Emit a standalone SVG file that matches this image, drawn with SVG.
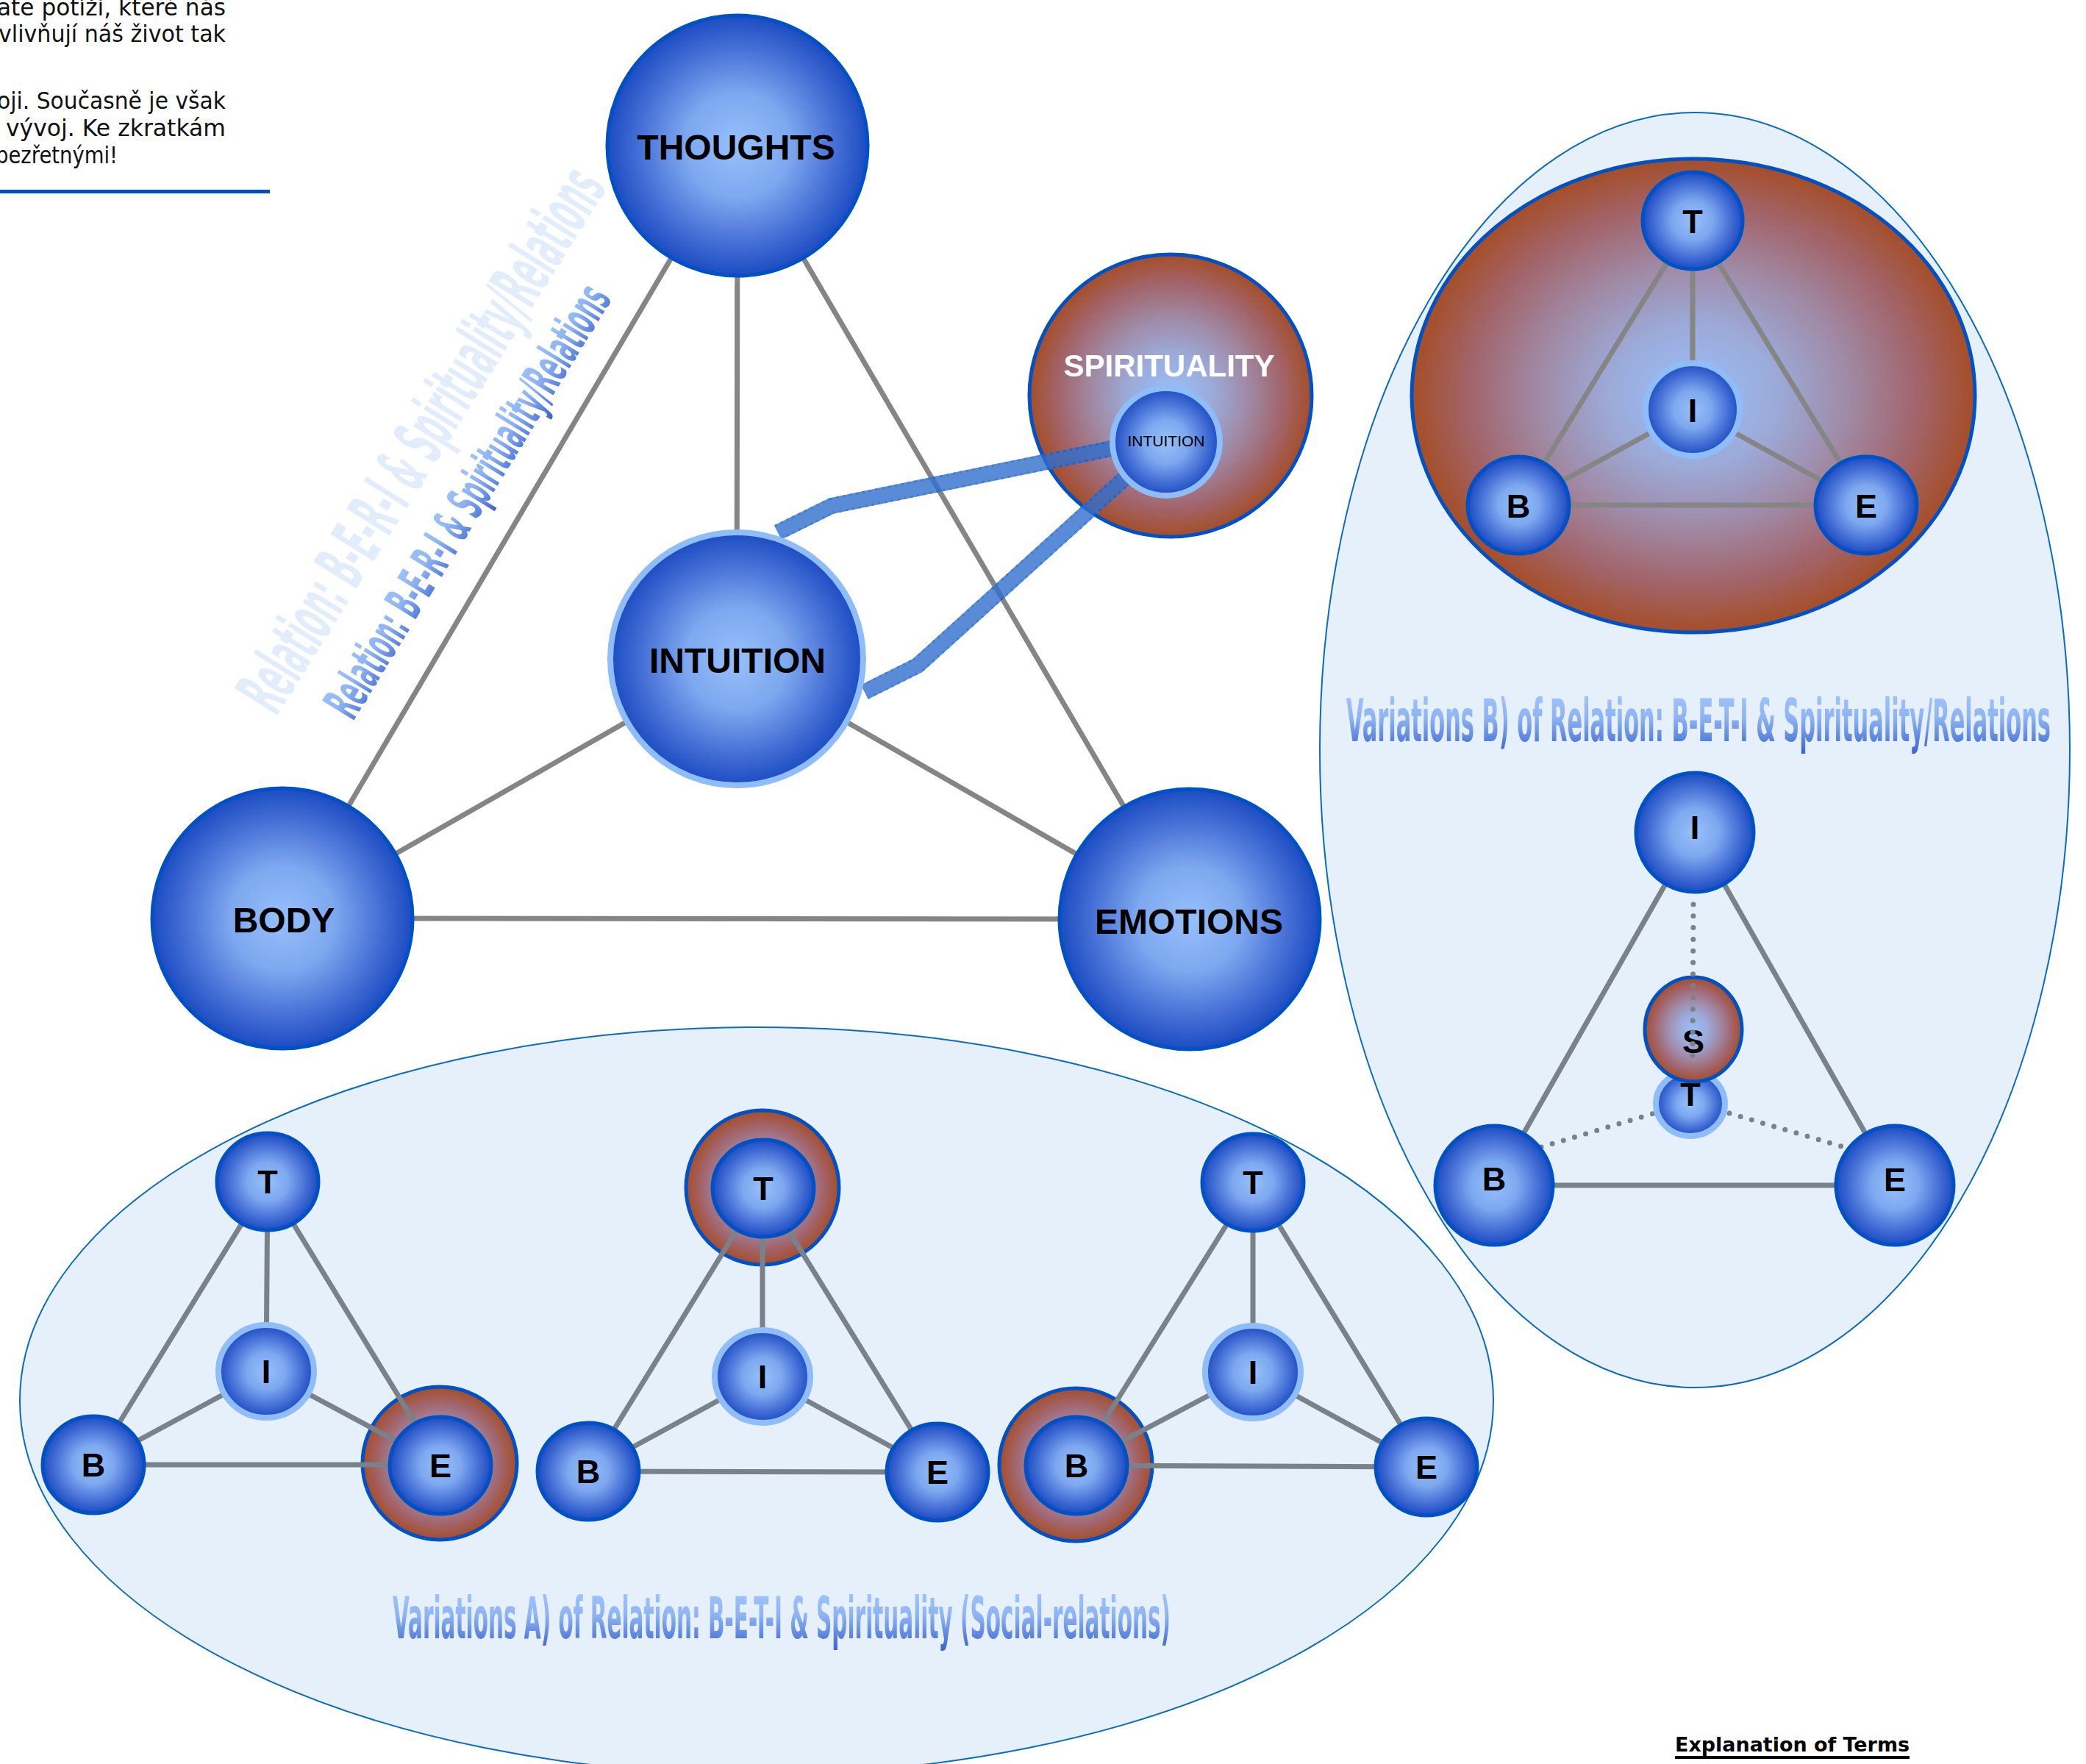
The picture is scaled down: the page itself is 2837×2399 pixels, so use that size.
<svg xmlns="http://www.w3.org/2000/svg" width="2837" height="2399" viewBox="0 0 2837 2399">
<style>
.hdr{font-family:"DejaVu Sans","Liberation Sans",sans-serif;font-size:32px;fill:#111}
.big{font-family:"Liberation Sans",Arial,sans-serif;font-weight:bold;font-size:48px;fill:#000;text-anchor:middle}
.sm{font-family:"Liberation Sans",Arial,sans-serif;font-weight:bold;font-size:45px;fill:#000;text-anchor:middle}
.ln{stroke:#858585;stroke-width:7;fill:none}
.ln2{stroke:#79828a;stroke-width:7;fill:none}
.dot{stroke:#79828a;stroke-width:7;stroke-linecap:round;stroke-dasharray:0 15.8;fill:none}
.nb{fill:url(#gBlue);stroke:#0050c6;stroke-width:5}
.ni{fill:url(#gBlue);stroke:#8fbdf9;stroke-width:8}
.ns{fill:url(#gBrown);stroke:#0050c6;stroke-width:5}
.area{fill:#e6f0fa;stroke:#0a6cc0;stroke-width:2}
.cond{font-family:"Liberation Sans Narrow","DejaVu Sans Condensed","Liberation Sans",sans-serif;font-weight:bold;text-anchor:middle}
</style>
<defs>
<radialGradient id="gBlue" cx="50%" cy="50%" r="50%">
<stop offset="0" stop-color="#96c0fb"/>
<stop offset="0.4" stop-color="#7ea8ef"/>
<stop offset="0.75" stop-color="#4670d6"/>
<stop offset="1" stop-color="#1c4cc2"/>
</radialGradient>
<radialGradient id="gBrown" cx="50%" cy="50%" r="50%">
<stop offset="0" stop-color="#98bffa"/>
<stop offset="0.3" stop-color="#9caad8"/>
<stop offset="0.55" stop-color="#a08aa6"/>
<stop offset="0.8" stop-color="#a2646a"/>
<stop offset="1" stop-color="#a54e28"/>
</radialGradient>
<linearGradient id="gText" x1="0" y1="0" x2="0" y2="1">
<stop offset="0" stop-color="#a4c8fe"/>
<stop offset="0.45" stop-color="#8fb4f4"/>
<stop offset="1" stop-color="#3560cc"/>
</linearGradient>
</defs>

<g id="header">
<text class="hdr" x="-4" y="21" textLength="311" lengthAdjust="spacingAndGlyphs">ate potíži, které nás</text>
<text class="hdr" x="-2" y="57" textLength="309" lengthAdjust="spacingAndGlyphs">vlivňují náš život tak</text>
<text class="hdr" x="-4" y="148" textLength="311" lengthAdjust="spacingAndGlyphs">oji. Současně je však</text>
<text class="hdr" x="8" y="185" textLength="299" lengthAdjust="spacingAndGlyphs">vývoj. Ke zkratkám</text>
<text class="hdr" x="-6" y="222" textLength="166" lengthAdjust="spacingAndGlyphs">bezřetnými!</text>
<rect x="0" y="258" width="367" height="5" fill="#0050c0"/>
</g>

<g id="diagonal-labels">
<text class="cond" transform="translate(572,597) rotate(-58)" x="0" y="34" font-size="95" fill="#e2edfb" textLength="850" lengthAdjust="spacingAndGlyphs">Relation: B-E-R-I &amp; Spirituality/Relations</text>
<text class="cond" transform="translate(635,681) rotate(-58.5)" x="0" y="25" font-size="70" fill="url(#gText)" textLength="675" lengthAdjust="spacingAndGlyphs">Relation: B-E-R-I &amp; Spirituality/Relations</text>
</g>

<g id="main-connectors">
<line class="ln" x1="1003" y1="198" x2="384" y2="1249"/>
<line class="ln" x1="1003" y1="198" x2="1618" y2="1250"/>
<line class="ln" x1="1003" y1="198" x2="1002" y2="896"/>
<line class="ln" x1="1002" y1="896" x2="384" y2="1249"/>
<line class="ln" x1="1002" y1="896" x2="1618" y2="1250"/>
<line class="ln" x1="384" y1="1249" x2="1618" y2="1250"/>
</g>

<g id="node-thoughts">
<circle class="nb" cx="1003" cy="198" r="177"/>
<text class="big" x="1001" y="217">THOUGHTS</text>
</g>
<g id="node-body">
<circle class="nb" cx="384" cy="1249" r="177"/>
<text class="big" x="386" y="1268">BODY</text>
</g>
<g id="node-emotions">
<circle class="nb" cx="1618" cy="1250" r="177"/>
<text class="big" x="1617" y="1270">EMOTIONS</text>
</g>
<g id="node-spirituality">
<circle class="ns" cx="1592" cy="538" r="192" stroke-width="6"/>
<text x="1590" y="512" font-family="Liberation Sans, Arial, sans-serif" font-weight="bold" font-size="42" fill="#ffffff" text-anchor="middle">SPIRITUALITY</text>
</g>
<g id="spirit-bands" opacity="0.8">
<path d="M1058,724 L1131,688 L1511,610" stroke="#316fce" stroke-width="22" fill="none" stroke-linejoin="round"/>
<path d="M1058,724 L1131,688 L1511,610" stroke="#0e5fc8" stroke-width="22" fill="none" stroke-dasharray="3 6" stroke-linejoin="round"/>
<path d="M1058,724 L1131,688 L1511,610" stroke="#316fce" stroke-width="16" fill="none" stroke-linejoin="round"/>
<path d="M1176,941 L1248,905 L1529,651" stroke="#316fce" stroke-width="22" fill="none" stroke-linejoin="round"/>
<path d="M1176,941 L1248,905 L1529,651" stroke="#0e5fc8" stroke-width="22" fill="none" stroke-dasharray="3 6" stroke-linejoin="round"/>
<path d="M1176,941 L1248,905 L1529,651" stroke="#316fce" stroke-width="16" fill="none" stroke-linejoin="round"/>
</g>
<g id="node-intuition-inner">
<circle class="ni" cx="1586" cy="601" r="73"/>
<text x="1586" y="607" font-family="Liberation Sans, Arial, sans-serif" font-size="21" fill="#000" text-anchor="middle">INTUITION</text>
</g>
<g id="node-intuition">
<circle class="ni" cx="1002" cy="896" r="172"/>
<text class="big" x="1003" y="915">INTUITION</text>
</g>

<g id="variations-a">
<ellipse class="area" cx="1029" cy="1905" rx="1002" ry="508"/>
<g id="a-rings">
<ellipse class="ns" cx="598" cy="1990" rx="105" ry="104" stroke-width="4"/>
<ellipse class="ns" cx="1037" cy="1615" rx="104" ry="105" stroke-width="4"/>
<ellipse class="ns" cx="1463" cy="1992" rx="104" ry="104" stroke-width="4"/>
</g>
<g id="a-connectors">
<line class="ln2" x1="364" y1="1607" x2="127" y2="1992"/>
<line class="ln2" x1="364" y1="1607" x2="599" y2="1992"/>
<line class="ln2" x1="364" y1="1607" x2="362" y2="1865"/>
<line class="ln2" x1="362" y1="1865" x2="127" y2="1992"/>
<line class="ln2" x1="362" y1="1865" x2="599" y2="1992"/>
<line class="ln2" x1="127" y1="1992" x2="599" y2="1992"/>
<line class="ln2" x1="1037" y1="1616" x2="800" y2="2001"/>
<line class="ln2" x1="1037" y1="1616" x2="1275" y2="2002"/>
<line class="ln2" x1="1037" y1="1616" x2="1037" y2="1872"/>
<line class="ln2" x1="1037" y1="1872" x2="800" y2="2001"/>
<line class="ln2" x1="1037" y1="1872" x2="1275" y2="2002"/>
<line class="ln2" x1="800" y1="2001" x2="1275" y2="2002"/>
<line class="ln2" x1="1704" y1="1608" x2="1464" y2="1993"/>
<line class="ln2" x1="1704" y1="1608" x2="1940" y2="1995"/>
<line class="ln2" x1="1704" y1="1608" x2="1704" y2="1866"/>
<line class="ln2" x1="1704" y1="1866" x2="1464" y2="1993"/>
<line class="ln2" x1="1704" y1="1866" x2="1940" y2="1995"/>
<line class="ln2" x1="1464" y1="1993" x2="1940" y2="1995"/>
</g>
<g id="a1-t"><ellipse class="nb" cx="364" cy="1607" rx="69" ry="66"/><text class="sm" x="364" y="1623">T</text></g>
<g id="a1-i"><ellipse class="ni" cx="362" cy="1865" rx="65" ry="63"/><text class="sm" x="362" y="1881">I</text></g>
<g id="a1-b"><ellipse class="nb" cx="127" cy="1992" rx="69" ry="66"/><text class="sm" x="127" y="2008">B</text></g>
<g id="a1-e"><ellipse class="nb" cx="599" cy="1993" rx="69" ry="66"/><text class="sm" x="599" y="2009">E</text></g>
<g id="a2-t"><ellipse class="nb" cx="1038" cy="1616" rx="69" ry="66"/><text class="sm" x="1038" y="1632">T</text></g>
<g id="a2-i"><ellipse class="ni" cx="1037" cy="1872" rx="65" ry="63"/><text class="sm" x="1037" y="1888">I</text></g>
<g id="a2-b"><ellipse class="nb" cx="800" cy="2001" rx="69" ry="66"/><text class="sm" x="800" y="2017">B</text></g>
<g id="a2-e"><ellipse class="nb" cx="1275" cy="2002" rx="69" ry="66"/><text class="sm" x="1275" y="2018">E</text></g>
<g id="a3-t"><ellipse class="nb" cx="1704" cy="1608" rx="69" ry="66"/><text class="sm" x="1704" y="1624">T</text></g>
<g id="a3-i"><ellipse class="ni" cx="1704" cy="1866" rx="65" ry="63"/><text class="sm" x="1704" y="1882">I</text></g>
<g id="a3-b"><ellipse class="nb" cx="1464" cy="1993" rx="69" ry="66"/><text class="sm" x="1464" y="2009">B</text></g>
<g id="a3-e"><ellipse class="nb" cx="1940" cy="1995" rx="69" ry="66"/><text class="sm" x="1940" y="2011">E</text></g>
<text class="cond" x="1063" y="2228" font-size="78" fill="url(#gText)" textLength="1058" lengthAdjust="spacingAndGlyphs">Variations A) of Relation: B-E-T-I &amp; Spirituality (Social-relations)</text>
</g>

<g id="variations-b">
<ellipse class="area" cx="2305" cy="1020" rx="510" ry="867"/>
<g id="b-spirituality"><ellipse class="ns" cx="2303" cy="538" rx="383" ry="322" stroke-width="6"/></g>
<g id="b1-connectors">
<line class="ln" x1="2302" y1="300" x2="2065" y2="687"/>
<line class="ln" x1="2302" y1="300" x2="2538" y2="687"/>
<line class="ln" x1="2302" y1="300" x2="2302" y2="557"/>
<line class="ln" x1="2302" y1="557" x2="2065" y2="687"/>
<line class="ln" x1="2302" y1="557" x2="2538" y2="687"/>
<line class="ln" x1="2065" y1="687" x2="2538" y2="687"/>
</g>
<g id="b1-t"><ellipse class="nb" cx="2302" cy="300" rx="68" ry="66"/><text class="sm" x="2302" y="317">T</text></g>
<g id="b1-i"><ellipse class="ni" cx="2302" cy="557" rx="64" ry="63"/><text class="sm" x="2302" y="574">I</text></g>
<g id="b1-b"><ellipse class="nb" cx="2065" cy="687" rx="69" ry="66"/><text class="sm" x="2065" y="704">B</text></g>
<g id="b1-e"><ellipse class="nb" cx="2538" cy="687" rx="69" ry="66"/><text class="sm" x="2538" y="704">E</text></g>
<text class="cond" x="2310" y="1008" font-size="80" fill="url(#gText)" textLength="958" lengthAdjust="spacingAndGlyphs">Variations B) of Relation: B-E-T-I &amp; Spirituality/Relations</text>
<g id="b2-connectors">
<line class="ln2" x1="2305" y1="1132" x2="2032" y2="1612"/>
<line class="ln2" x1="2305" y1="1132" x2="2577" y2="1612"/>
<line class="ln2" x1="2032" y1="1612" x2="2577" y2="1612"/>
<line class="dot" x1="2096" y1="1560" x2="2250" y2="1514"/>
<line class="dot" x1="2352" y1="1514" x2="2508" y2="1560"/>
</g>
<g id="b2-t"><ellipse class="ni" cx="2299" cy="1501" rx="47" ry="44"/><text class="sm" x="2299" y="1504" font-size="36">T</text></g>
<g id="b2-s"><ellipse class="ns" cx="2303" cy="1400" rx="66" ry="71"/><text class="sm" x="2303" y="1432">S</text></g>
<g id="b2-i"><ellipse class="nb" cx="2305" cy="1132" rx="80" ry="81"/><text class="sm" x="2305" y="1141">I</text></g>
<g id="b2-b"><ellipse class="nb" cx="2032" cy="1612" rx="80" ry="81"/><text class="sm" x="2032" y="1619">B</text></g>
<g id="b2-e"><ellipse class="nb" cx="2577" cy="1612" rx="80" ry="81"/><text class="sm" x="2577" y="1620">E</text></g>
<line class="dot" x1="2303" y1="1230" x2="2302" y2="1440"/>
</g>

<g id="explanation">
<text x="2278" y="2382" font-family="DejaVu Sans, Liberation Sans, sans-serif" font-weight="bold" font-size="26" fill="#000" textLength="319" lengthAdjust="spacingAndGlyphs">Explanation of Terms</text>
<rect x="2278" y="2388" width="319" height="4" fill="#000"/>
</g>
</svg>
